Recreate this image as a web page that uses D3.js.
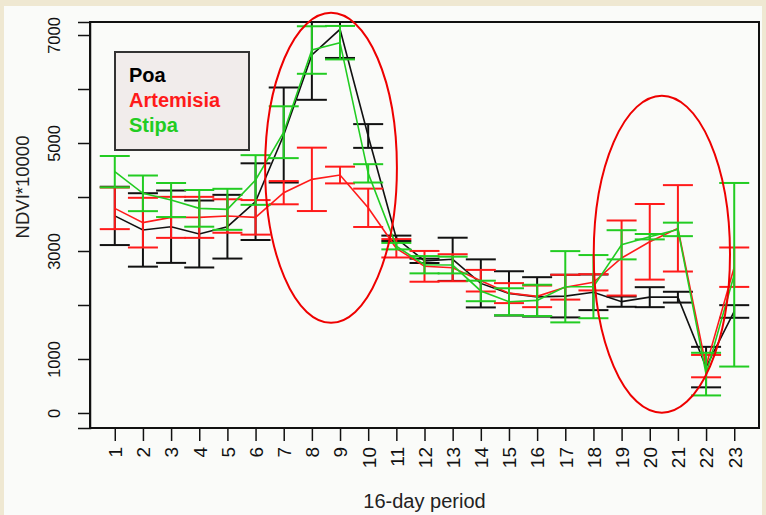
<!DOCTYPE html>
<html>
<head>
<meta charset="utf-8">
<script src="https://cdn.jsdelivr.net/npm/d3@7"></script>
<style>
  html, body { margin: 0; padding: 0; background: #efe8d2; }
  svg { display: block; }
  text { font-family: "Liberation Sans", Arial, sans-serif; }
</style>
</head>
<body>
<svg id="chart" width="766" height="515"></svg>
<script>
// ---- data ----
const periods = d3.range(1, 24);
const yTickValues = [0, 1000, 2000, 3000, 4000, 5000, 6000, 7000];
const yTickLabels = ["0", "1000", "", "3000", "", "5000", "", "7000"];

const poaMean = [3650, 3390, 3450, 3315, 3450, 3914, 5148, 6630, 7105, 5130, 3235, 2818, 2846, 2400, 2215, 2150, 2165, 2235, 2062, 2145, 2145, 850, 1880];
const poaErr  = [540, 680, 670, 620, 590, 710, 880, 830, 530, 220, 50, 40, 400, 445, 410, 365, 395, 330, 95, 185, 100, 375, 117];

const artMean = [3790, 3525, 3623, 3623, 3648, 3623, 4080, 4327, 4407, 3800, 3050, 2716, 2690, 2450, 2220, 2160, 2330, 2420, 2870, 3170, 3420, 868, 2700];
const artErr  = [385, 460, 380, 380, 310, 320, 215, 587, 155, 355, 170, 285, 250, 200, 185, 200, 230, 150, 695, 700, 800, 207, 365];

const stiMean = [4469, 4068, 3944, 3790, 3772, 4315, 5200, 6722, 6858, 4438, 3090, 2746, 2740, 2260, 2060, 2085, 2338, 2340, 3115, 3265, 3400, 720, 2560];
const stiErr  = [290, 330, 315, 340, 380, 460, 480, 440, 310, 170, 60, 160, 155, 190, 250, 290, 660, 585, 270, 50, 125, 395, 1700];

const seriesNames = ["Poa", "Artemisia", "Stipa"];
const seriesColors = ["#111111", "#ff1a1a", "#22cc22"];

// annotation ellipses (period, value, half-width in periods, half-height in value units)
const ellipseCx = [8.68, 20.43];
const ellipseCy = [4540, 2940];
const ellipseRx = [2.34, 2.42];
const ellipseRy = [2870, 2935];

// ---- layout ----
const svg = d3.select("#chart");
const box = {left: 90, right: 759, top: 22, bottom: 428};

svg.append("rect").attr("x", 4).attr("y", 6).attr("width", 758).attr("height", 515)
  .attr("fill", "#fafbf9");

const x = d3.scaleLinear().domain([0.12, 23.88]).range([box.left, box.right]);
const y = d3.scaleLinear().domain([-278, 7241]).range([box.bottom, box.top]);

svg.append("defs").append("clipPath").attr("id", "plotclip")
  .append("rect").attr("x", box.left).attr("y", box.top)
  .attr("width", box.right - box.left).attr("height", box.bottom - box.top);

// axes
const yAxis = d3.axisLeft(y).tickValues(yTickValues).tickSize(12)
  .tickFormat((d, i) => yTickLabels[i]);
const gy = svg.append("g").attr("transform", `translate(${box.left},0)`).call(yAxis);
gy.select(".domain").attr("stroke", "#111").attr("stroke-width", 1.5);
gy.selectAll(".tick line").attr("stroke", "#111").attr("stroke-width", 1.5);
gy.selectAll(".tick text")
  .attr("transform", "rotate(-90)")
  .attr("x", 0).attr("y", -30).attr("dy", 0)
  .attr("text-anchor", "middle")
  .attr("font-size", 16.5).attr("fill", "#111")
  .attr("font-family", "Liberation Sans, Arial, sans-serif");

const xAxis = d3.axisBottom(x).tickValues(periods).tickSize(13).tickFormat(d3.format("d"));
const gx = svg.append("g").attr("transform", `translate(0,${box.bottom})`).call(xAxis);
gx.select(".domain").remove();
gx.selectAll(".tick line").attr("stroke", "#111").attr("stroke-width", 1.5);
gx.selectAll(".tick text")
  .attr("transform", "rotate(-90)")
  .attr("x", -19).attr("y", 0).attr("dy", "0.36em")
  .attr("text-anchor", "end")
  .attr("font-size", 19).attr("fill", "#111")
  .attr("font-family", "Liberation Sans, Arial, sans-serif");

// axis titles
svg.append("text").attr("x", (box.left + box.right) / 2 + 0).attr("y", 508)
  .attr("text-anchor", "middle").attr("font-size", 20).attr("fill", "#222")
  .text("16-day period");
svg.append("text").attr("transform", "translate(29,187) rotate(-90)")
  .attr("text-anchor", "middle").attr("font-size", 18.5).attr("fill", "#222")
  .text("NDVI*10000");

// series
const plot = svg.append("g").attr("clip-path", "url(#plotclip)");
const allMeans = [poaMean, artMean, stiMean];
const allErrs = [poaErr, artErr, stiErr];
const capHalf = 15;

allMeans.forEach((means, s) => {
  const col = seriesColors[s];
  const data = periods.map((p, i) => ({p, m: means[i], e: allErrs[s][i]}));
  const g = plot.append("g");
  g.selectAll("line.bar").data(data).join("line").attr("class", "bar")
    .attr("x1", d => x(d.p)).attr("x2", d => x(d.p))
    .attr("y1", d => y(d.m - d.e)).attr("y2", d => y(d.m + d.e))
    .attr("stroke", col).attr("stroke-width", 2);
  g.selectAll("line.capt").data(data).join("line").attr("class", "capt")
    .attr("x1", d => x(d.p) - capHalf).attr("x2", d => x(d.p) + capHalf)
    .attr("y1", d => y(d.m + d.e)).attr("y2", d => y(d.m + d.e))
    .attr("stroke", col).attr("stroke-width", 2);
  g.selectAll("line.capb").data(data).join("line").attr("class", "capb")
    .attr("x1", d => x(d.p) - capHalf).attr("x2", d => x(d.p) + capHalf)
    .attr("y1", d => y(d.m - d.e)).attr("y2", d => y(d.m - d.e))
    .attr("stroke", col).attr("stroke-width", 2);
  g.append("path").datum(data)
    .attr("d", d3.line().x(d => x(d.p)).y(d => y(d.m)))
    .attr("fill", "none").attr("stroke", col).attr("stroke-width", 1.6);
});

// box
svg.append("rect").attr("x", box.left).attr("y", box.top)
  .attr("width", box.right - box.left).attr("height", box.bottom - box.top)
  .attr("fill", "none").attr("stroke", "#111").attr("stroke-width", 2);

// legend
const lg = svg.append("g");
lg.append("rect").attr("x", 115).attr("y", 52).attr("width", 134).attr("height", 98)
  .attr("fill", "#f1eceb").attr("stroke", "#333").attr("stroke-width", 2);
seriesNames.forEach((n, i) => {
  lg.append("text").attr("x", 129).attr("y", 82 + i * 25)
    .attr("font-size", 20).attr("font-weight", "bold")
    .attr("fill", seriesColors[i] === "#111111" ? "#000" : seriesColors[i])
    .text(n);
});

// annotation ellipses
ellipseCx.forEach((cx, i) => {
  svg.append("ellipse")
    .attr("cx", x(cx)).attr("cy", y(ellipseCy[i]))
    .attr("rx", x(cx + ellipseRx[i]) - x(cx))
    .attr("ry", y(ellipseCy[i] - ellipseRy[i]) - y(ellipseCy[i]))
    .attr("fill", "none").attr("stroke", "#ee0000").attr("stroke-width", 2);
});
</script>
</body>
</html>
